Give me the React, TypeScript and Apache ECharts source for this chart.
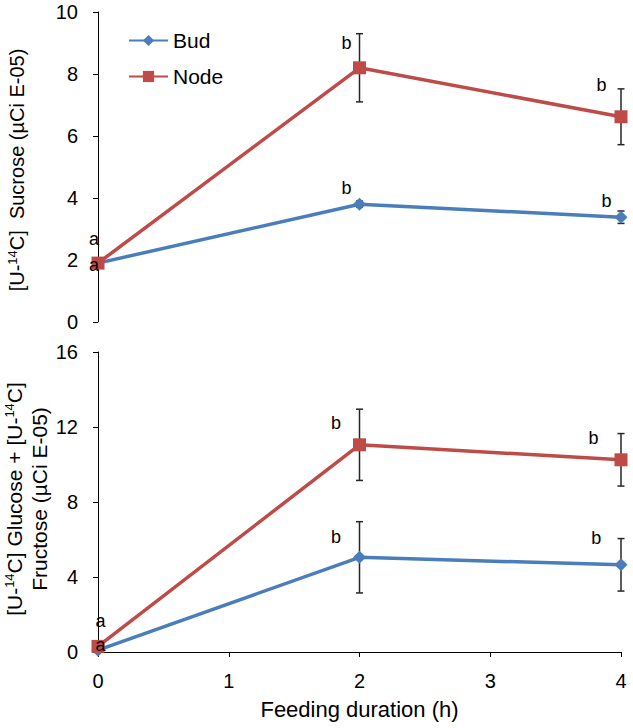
import React, { useEffect, useRef } from 'react';
import * as echarts from 'echarts';

// ---- data ----
const hours = [0, 2, 4];
const sucroseBud = [1.9, 3.8, 3.38];
const sucroseBudErr = [0, 0.1, 0.2];
const sucroseNode = [1.9, 8.2, 6.62];
const sucroseNodeErr = [0.05, 1.1, 0.9];
const hexoseBud = [0.1, 5.05, 4.65];
const hexoseBudErr = [0, 1.9, 1.4];
const hexoseNode = [0.3, 11.05, 10.25];
const hexoseNodeErr = [0.05, 1.9, 1.4];

// significance letters: [x, y, letter]
const sucroseLetters: [number, number, string][] = [
  [-0.03, 2.68, 'a'],
  [-0.03, 1.84, 'a'],
  [1.9, 9.0, 'b'],
  [3.85, 7.65, 'b'],
  [1.9, 4.32, 'b'],
  [3.89, 3.9, 'b'],
];
const hexoseLetters: [number, number, string][] = [
  [0.02, 1.65, 'a'],
  [0.02, 0.37, 'a'],
  [1.82, 12.2, 'b'],
  [3.79, 11.4, 'b'],
  [1.82, 6.13, 'b'],
  [3.81, 6.08, 'b'],
];

const BLUE = '#4A7EBB';
const RED = '#BE4B48';
const FONT = '"Liberation Sans", Arial, sans-serif';

const pts = (v: number[]) => hours.map((h, i) => [h, v[i]]);
const errs = (v: number[], e: number[]) =>
  hours.map((h, i) => [h, v[i] - e[i], v[i] + e[i]]).filter((_, i) => e[i] > 0);

const errorRender = (params: any, api: any) => {
  const x = api.value(0);
  const lo = api.value(1);
  const hi = api.value(2);
  const top = api.coord([x, hi]);
  const bot = api.coord([x, lo]);
  const hw = 3.5;
  const style = { stroke: '#262626', lineWidth: 1.5 };
  return {
    type: 'group',
    children: [
      { type: 'line', shape: { x1: top[0], y1: top[1], x2: bot[0], y2: bot[1] }, style },
      { type: 'line', shape: { x1: top[0] - hw, y1: top[1], x2: top[0] + hw, y2: top[1] }, style },
      { type: 'line', shape: { x1: bot[0] - hw, y1: bot[1], x2: bot[0] + hw, y2: bot[1] }, style },
    ],
  };
};

const letterRender = (letters: [number, number, string][]) => (params: any, api: any) => {
  const p = api.coord([api.value(0), api.value(1)]);
  return {
    type: 'text',
    x: p[0],
    y: p[1],
    style: {
      text: letters[params.dataIndex][2],
      fontSize: 18,
      fontFamily: FONT,
      fill: '#000',
      align: 'center',
      verticalAlign: 'middle',
    },
  };
};

const yAxisCommon = {
  type: 'value' as const,
  axisLine: { show: true, lineStyle: { color: '#000', width: 1 } },
  axisTick: { show: true, inside: false, length: 5, lineStyle: { color: '#000' } },
  axisLabel: { fontSize: 20, color: '#000', margin: 20, fontFamily: FONT },
  splitLine: { show: false },
};

export default function App() {
  const ref = useRef<HTMLDivElement>(null);
  useEffect(() => {
    if (!ref.current) return;
    const chart = echarts.init(ref.current, undefined, { renderer: 'svg' });
    const lineSeries = (name: string, data: number[], color: string, symbol: string, size: number, xi: number) => ({
      name,
      type: 'line',
      xAxisIndex: xi,
      yAxisIndex: xi,
      data: pts(data),
      symbol,
      symbolSize: size,
      showAllSymbol: true,
      lineStyle: { color, width: 3.5 },
      itemStyle: { color },
      z: 3,
    });
    const richTop = {
      n: { fontSize: 20, fontFamily: FONT, fill: '#000' },
      s: { fontSize: 13, fontFamily: FONT, fill: '#000', padding: [0, 0, 9, 0] },
    };
    const richBot = {
      n: { fontSize: 21, fontFamily: FONT, fill: '#000' },
      s: { fontSize: 13, fontFamily: FONT, fill: '#000', padding: [0, 0, 10, 0] },
    };
    chart.setOption({
      animation: false,
      textStyle: { fontFamily: FONT },
      grid: [
        { left: 98, top: 12, width: 523, height: 310 },
        { left: 98, top: 352, width: 523, height: 300 },
      ],
      legend: {
        data: ['Bud', 'Node'],
        orient: 'vertical',
        left: 123,
        top: 25,
        itemWidth: 39,
        itemHeight: 14,
        itemGap: 15,
        textStyle: { fontSize: 21, color: '#000', fontFamily: FONT },
      },
      xAxis: [
        { gridIndex: 0, type: 'value', min: 0, max: 4, interval: 1, show: false },
        {
          gridIndex: 1,
          type: 'value',
          min: 0,
          max: 4,
          interval: 1,
          axisLine: { show: true, onZero: false, lineStyle: { color: '#000', width: 1 } },
          axisTick: { show: true, inside: false, length: 5, lineStyle: { color: '#000' } },
          axisLabel: { fontSize: 20, color: '#000', margin: 19, fontFamily: FONT },
          splitLine: { show: false },
          name: 'Feeding duration (h)',
          nameLocation: 'middle',
          nameGap: 46,
          nameTextStyle: { fontSize: 22, color: '#000', fontFamily: FONT },
        },
      ],
      yAxis: [
        { ...yAxisCommon, gridIndex: 0, min: 0, max: 10, interval: 2 },
        { ...yAxisCommon, gridIndex: 1, min: 0, max: 16, interval: 4 },
      ],
      graphic: [
        {
          type: 'text',
          x: 17,
          y: 170,
          rotation: Math.PI / 2,
          style: {
            text: '{n|[U-}{s|14}{n|C]  Sucrose (µCi E-05)}',
            rich: richTop,
            align: 'center',
            verticalAlign: 'middle',
          },
        },
        {
          type: 'text',
          x: 27,
          y: 499,
          rotation: Math.PI / 2,
          style: {
            text: '{n|[U-}{s|14}{n|C] Glucose + [U-}{s|14}{n|C]}\n{n|Fructose (µCi E-05)}',
            rich: richBot,
            align: 'center',
            verticalAlign: 'middle',
            lineHeight: 25,
          },
        },
      ],
      series: [
        { type: 'custom', xAxisIndex: 0, yAxisIndex: 0, data: errs(sucroseBud, sucroseBudErr), renderItem: errorRender, z: 2 },
        { type: 'custom', xAxisIndex: 0, yAxisIndex: 0, data: errs(sucroseNode, sucroseNodeErr), renderItem: errorRender, z: 2 },
        { type: 'custom', xAxisIndex: 1, yAxisIndex: 1, data: errs(hexoseBud, hexoseBudErr), renderItem: errorRender, z: 2 },
        { type: 'custom', xAxisIndex: 1, yAxisIndex: 1, data: errs(hexoseNode, hexoseNodeErr), renderItem: errorRender, z: 2 },
        lineSeries('Bud', sucroseBud, BLUE, 'diamond', 13, 0),
        lineSeries('Node', sucroseNode, RED, 'rect', 13, 0),
        lineSeries('Bud', hexoseBud, BLUE, 'diamond', 13, 1),
        lineSeries('Node', hexoseNode, RED, 'rect', 13, 1),
        {
          type: 'custom',
          xAxisIndex: 0,
          yAxisIndex: 0,
          data: sucroseLetters.map((l) => [l[0], l[1]]),
          renderItem: letterRender(sucroseLetters),
          z: 5,
        },
        {
          type: 'custom',
          xAxisIndex: 1,
          yAxisIndex: 1,
          data: hexoseLetters.map((l) => [l[0], l[1]]),
          renderItem: letterRender(hexoseLetters),
          z: 5,
        },
      ],
    });
    return () => chart.dispose();
  }, []);
  return (
    <div
      ref={ref}
      style={{ position: 'fixed', left: 0, top: 0, width: 633, height: 728, background: '#fff' }}
    />
  );
}
